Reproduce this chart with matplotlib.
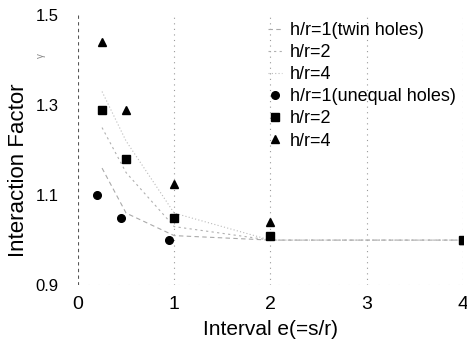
import matplotlib
matplotlib.use("Agg")
import matplotlib.pyplot as plt

plt.rcParams['font.family'] = ['Liberation Sans', 'DejaVu Sans']

# Twin holes (faint dashed curves)
twin_x = [0.25, 0.5, 1, 2, 4]
twin_h1 = [1.16, 1.06, 1.01, 1.0, 1.0]
twin_h2 = [1.25, 1.15, 1.03, 1.0, 1.0]
twin_h4 = [1.33, 1.22, 1.06, 1.0, 1.0]

# Unequal holes (markers)
uneq_h1_x = [0.2, 0.45, 0.95, 2, 4]
uneq_h1_y = [1.10, 1.05, 1.00, 1.01, 1.00]
uneq_h2_x = [0.25, 0.5, 1, 2, 4]
uneq_h2_y = [1.29, 1.18, 1.05, 1.01, 1.00]
uneq_h4_x = [0.25, 0.5, 1, 2, 4]
uneq_h4_y = [1.44, 1.29, 1.125, 1.04, 1.00]

x_ticks = [0, 1, 2, 3, 4]
y_ticks = [0.9, 1.1, 1.3, 1.5]

fig = plt.figure(figsize=(4.67, 3.49), dpi=100)
ax = fig.add_axes([0.167, 0.183, 0.824, 0.774])

for sp in ax.spines.values():
    sp.set_visible(False)
for xv in x_ticks:
    ax.axvline(xv, color='#555555' if xv == 0 else '#999999',
               lw=0.8, ls=(0, (3, 3)) if xv == 0 else (0, (1, 4)), zorder=0)
ax.axhline(0.9, color='#999999', lw=0.8, ls=(0, (1, 8)), zorder=0)

l1, = ax.plot(twin_x, twin_h1, color='#aaaaaa', lw=0.8, ls=(0, (4, 3)))
l2, = ax.plot(twin_x, twin_h2, color='#b0b0b0', lw=0.8, ls=(0, (2, 3)))
l3, = ax.plot(twin_x, twin_h4, color='#bbbbbb', lw=0.8, ls=(0, (1, 2)))

m1, = ax.plot(uneq_h1_x, uneq_h1_y, 'o', color='black', ms=5.5, ls='none')
m2, = ax.plot(uneq_h2_x, uneq_h2_y, 's', color='black', ms=5.5, ls='none')
m3, = ax.plot(uneq_h4_x, uneq_h4_y, '^', color='black', ms=5.5, ls='none')

ax.set_xlim(0, 4)
ax.set_ylim(0.9, 1.5)
ax.set_xticks(x_ticks)
ax.set_yticks(y_ticks)
ax.set_yticklabels(['0.9', '1.1', '1.3', '1.5'])
ax.tick_params(length=0)
ax.tick_params(axis='y', labelsize=12, pad=14)
ax.tick_params(axis='x', labelsize=14, pad=8)

ax.set_xlabel('Interval e(=s/r)', fontsize=15, labelpad=5)
ax.set_ylabel('Interaction Factor', fontsize=16)
ax.yaxis.set_label_coords(-0.127, 0.425)
fig.text(0.088, 0.84, 'γ', fontsize=7, color='#888888', rotation=90,
         ha='center', va='center')

handles = [l1, l2, l3, m1, m2, m3]
labels = ['h/r=1(twin holes)', 'h/r=2', 'h/r=4',
          'h/r=1(unequal holes)', 'h/r=2', 'h/r=4']
leg = ax.legend(handles, labels, loc='upper right', frameon=False,
                fontsize=13, handlelength=0.8, handletextpad=0.4,
                labelspacing=0.28, borderaxespad=0.0,
                bbox_to_anchor=(1.0, 1.0))

fig.savefig('out.png', dpi=100)
